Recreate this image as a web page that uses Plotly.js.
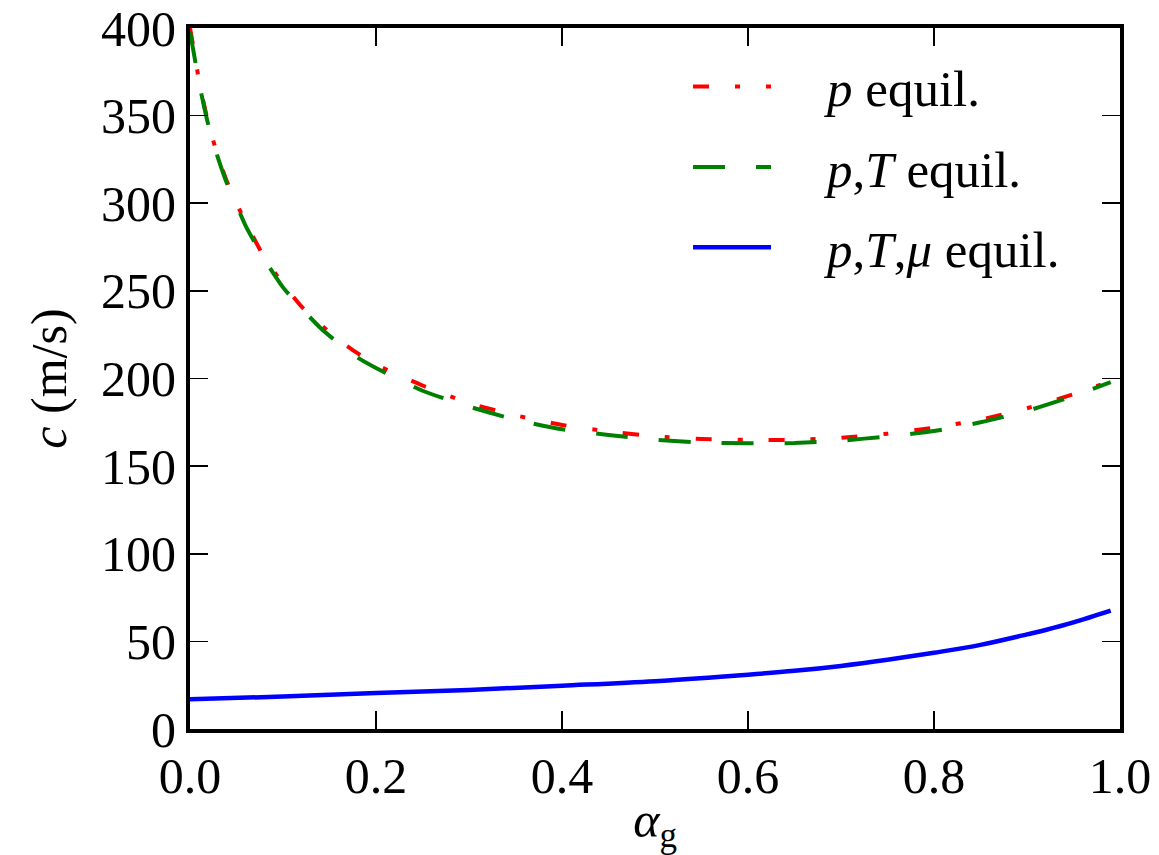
<!DOCTYPE html>
<html>
<head>
<meta charset="utf-8">
<script src="https://cdn.plot.ly/plotly-3.0.1.min.js"></script>
<style>html,body{margin:0;padding:0;background:#fff;}#chart{width:1159px;height:855px;}</style>
</head>
<body>
<div id="chart"></div>
<script>
// gas volume fraction
const alphaPT = [0, 0.005, 0.01, 0.02, 0.03, 0.04, 0.05, 0.06, 0.08, 0.10, 0.12, 0.14, 0.16, 0.18, 0.20, 0.25, 0.30, 0.35, 0.40, 0.45, 0.50, 0.55, 0.60, 0.65, 0.70, 0.75, 0.80, 0.85, 0.90, 0.95, 0.99];
// speed of sound, p equilibrium (m/s)
const cP = [400, 385, 369, 345, 327, 312, 300, 289, 269, 254, 241, 231, 222, 214.5, 208, 196, 186, 179, 173.5, 169.8, 167, 165.5, 165, 165, 166.2, 168.5, 172, 176.5, 183, 191, 198.5];
// speed of sound, p,T equilibrium (m/s)
const cPT = [398, 383, 368, 344, 326, 311, 299, 287, 268, 252, 240, 229, 220, 212, 206, 193, 184, 176.5, 171, 167.8, 165, 163.5, 163, 163.2, 164.5, 167, 170, 175, 181.5, 190, 198];
// gas volume fraction for full equilibrium curve
const alphaMu = [0, 0.1, 0.2, 0.3, 0.4, 0.5, 0.6, 0.65, 0.7, 0.75, 0.8, 0.85, 0.9, 0.92, 0.95, 0.99];
// speed of sound, p,T,mu equilibrium (m/s)
const cPTmu = [17, 18.5, 20.5, 22.3, 24.7, 27.3, 31, 33.2, 36, 39.5, 43.5, 48, 54, 56.5, 60.8, 67.5];

const names = ['<i>p</i> equil.', '<i>p</i>,<i>T</i> equil.', '<i>p</i>,<i>T</i>,<i>μ</i> equil.'];
const xTicks = [0, 0.2, 0.4, 0.6, 0.8, 1.0];
const xTickText = ['0.0', '0.2', '0.4', '0.6', '0.8', '1.0'];
const yTicks = [0, 50, 100, 150, 200, 250, 300, 350, 400];

const FONT = 'Liberation Serif, Times New Roman, serif';
const PAD = '&nbsp;&nbsp;&nbsp;&nbsp;';

const traces = [
  {x: alphaPT, y: cP, mode: 'lines', name: PAD + names[0], legendgroup: 'a',
   line: {color: '#ff0000', width: 4, dash: '16px,26px,5px,26px', shape: 'spline', smoothing: 0.6}},
  {x: alphaPT, y: cPT, mode: 'lines', name: PAD + names[1], legendgroup: 'b',
   line: {color: '#008000', width: 4, dash: '32px,31px', shape: 'spline', smoothing: 0.6}},
  {x: alphaMu, y: cPTmu, mode: 'lines', name: PAD + names[2], legendgroup: 'c',
   line: {color: '#0000ff', width: 4.5, shape: 'spline', smoothing: 1}}
];

const axisCommon = {
  showgrid: false, zeroline: false, showline: true, linecolor: '#000', linewidth: 4,
  mirror: 'ticks', ticks: 'inside', ticklen: 18, tickwidth: 1.7, tickcolor: '#000',
  tickfont: {family: FONT, size: 50, color: '#000'}
};

const layout = {
  width: 1159, height: 855,
  margin: {l: 190, r: 39, t: 28, b: 126},
  paper_bgcolor: '#fff', plot_bgcolor: '#fff',
  font: {family: FONT, color: '#000'},
  xaxis: Object.assign({}, axisCommon, {
    range: [0, 1], tickvals: xTicks, ticktext: xTickText,
    title: {text: '<i>α</i><sub>g</sub>', font: {family: FONT, size: 50}, standoff: 10}
  }),
  yaxis: Object.assign({}, axisCommon, {
    range: [0, 400], tickvals: yTicks,
    title: {text: '<i>c</i> (m/s)', font: {family: FONT, size: 50}, standoff: 20}
  }),
  showlegend: true,
  legend: {
    x: 0.5355, xanchor: 'left', y: 0.973, yanchor: 'top',
    bgcolor: 'rgba(0,0,0,0)', borderwidth: 0,
    font: {family: FONT, size: 51, color: '#000'},
    itemwidth: 78, tracegroupgap: 11
  }
};

Plotly.newPlot('chart', traces, layout, {staticPlot: true});
</script>
</body>
</html>
